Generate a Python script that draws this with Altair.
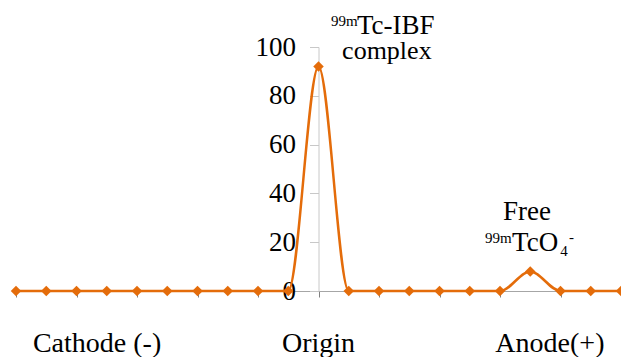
import altair as alt
import pandas as pd

# Migration positions (segments from origin) and % radioactivity
positions = list(range(-10, 11))
activity = [0, 0, 0, 0, 0, 0, 0, 0, 0, 0, 92, 0, 0, 0, 0, 0, 0, 8, 0, 0, 0]

y_ticks = [0, 20, 40, 60, 80, 100]

# centred annotation labels
center_text = ["Cathode (-)", "Origin", "Anode(+)", "complex", "Free"]
center_x = [-7.32, 0.0, 7.65, 2.26, 6.89]
center_y = [-25.0, -25.0, -25.0, 94.9, 29.1]
center_size = [28, 28, 28, 26, 27]

# left-aligned label pieces (with super/subscripts)
piece_text = ["99m", "Tc-IBF", "99m", "TcO", "4", "-"]
piece_x = [0.41, 1.27, 5.50, 6.40, 7.99, 8.28]
piece_y = [108.8, 105.5, 19.7, 16.4, 14.3, 20.1]
piece_size = [15, 27, 15, 27, 15, 15]

ORANGE = "#E46C0A"
SERIF = "Liberation Serif"

df = pd.DataFrame({"pos": positions, "val": activity})
ctext = pd.DataFrame({"t": center_text, "x": center_x, "y": center_y, "s": center_size})
ptext = pd.DataFrame({"t": piece_text, "x": piece_x, "y": piece_y, "s": piece_size})

xscale = alt.Scale(domain=[-10, 10], nice=False, zero=False)
yscale = alt.Scale(domain=[0, 100], nice=False)

base = alt.Chart(df).encode(
    x=alt.X("pos:Q", scale=xscale,
            axis=alt.Axis(title=None, labels=False, values=positions, tickSize=6,
                          tickColor="#808080", domainColor="#a6a6a6", grid=False,
                          domainWidth=1.2)),
    y=alt.Y("val:Q", scale=yscale,
            axis=alt.Axis(title=None, values=y_ticks, offset=-302.5, tickSize=9,
                          tickColor="#c8c8c8", domainColor="#c8c8c8", grid=False,
                          labelFont=SERIF, labelFontSize=27, labelColor="black",
                          labelPadding=14)),
)

line = base.mark_line(color=ORANGE, strokeWidth=2.5, interpolate="monotone")
pts = base.mark_point(shape="diamond", filled=True, color=ORANGE, size=110, opacity=1)

ct = alt.Chart(ctext).mark_text(font=SERIF, align="center",
                                baseline="alphabetic", color="black").encode(
    x=alt.X("x:Q", scale=xscale), y=alt.Y("y:Q", scale=yscale), text="t:N",
    size=alt.Size("s:Q", scale=None, legend=None))

pt = alt.Chart(ptext).mark_text(font=SERIF, align="left",
                                baseline="alphabetic", color="black").encode(
    x=alt.X("x:Q", scale=xscale), y=alt.Y("y:Q", scale=yscale), text="t:N",
    size=alt.Size("s:Q", scale=None, legend=None))

chart = alt.layer(line, pts, ct, pt).properties(
    width=605, height=244,
    autosize=alt.AutoSizeParams(type="none"),
    padding={"left": 8, "top": 39, "right": 0, "bottom": 66},
).configure_view(stroke=None)

chart.save("out.html", embed_options={"renderer": "svg", "actions": False})
